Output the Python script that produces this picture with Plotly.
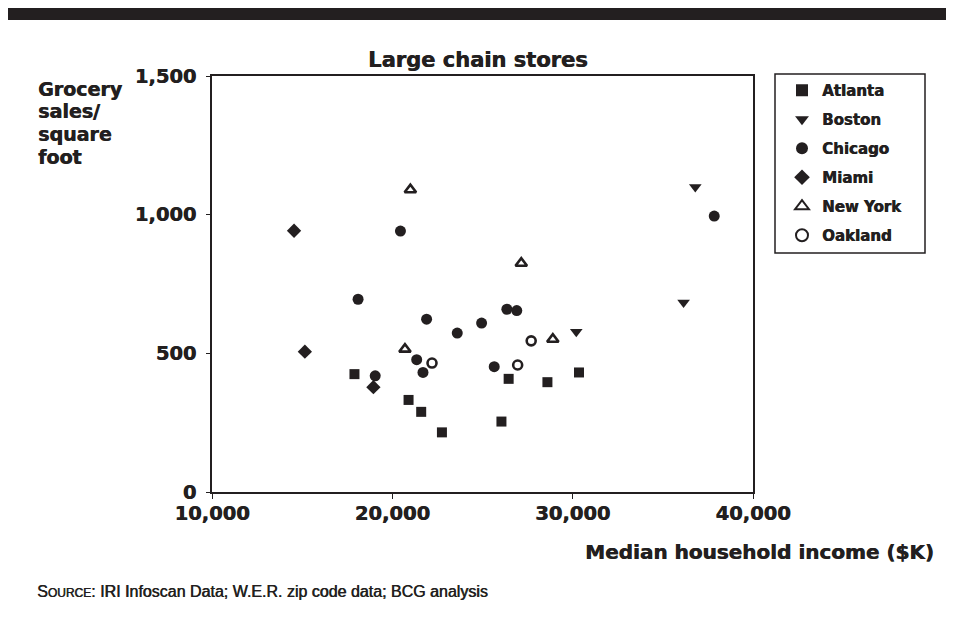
import plotly.graph_objects as go

# ---- data ----
cities = ["Atlanta", "Boston", "Chicago", "Miami", "New York", "Oakland"]

atlanta_income = [17900, 20900, 21600, 22750, 26050, 26450, 28600, 30350]
atlanta_sales = [425, 332, 289, 215, 254, 408, 396, 431]

boston_income = [30200, 36150, 36800]
boston_sales = [578, 683, 1100]

chicago_income = [18100, 19050, 20450, 21350, 21700, 21900, 23600, 24950, 25650, 26350, 26900, 37850]
chicago_sales = [695, 419, 941, 477, 431, 623, 573, 609, 452, 659, 654, 995]

miami_income = [14550, 15150, 18950]
miami_sales = [942, 506, 378]

newyork_income = [20700, 21000, 27150, 28900]
newyork_sales = [515, 1090, 825, 551]

oakland_income = [22200, 26950, 27700]
oakland_sales = [465, 458, 545]

x_ticks = [10000, 20000, 30000, 40000]
x_tick_labels = ["10,000", "20,000", "30,000", "40,000"]
y_ticks = [0, 500, 1000, 1500]
y_tick_labels = ["0", "500", "1,000", "1,500"]

y_title_lines = ["Grocery", "sales/", "square", "foot"]

# ---- style ----
INK = "#231f20"
HEAVY = "DejaVu Sans"
OFF = 8  # page body margin offset
THICK = "0.6px 0px 0px #231f20"

series = [
    (cities[0], atlanta_income, atlanta_sales, dict(symbol="square", size=10, color=INK)),
    (cities[1], boston_income, boston_sales, dict(symbol="triangle-down", size=11, color=INK)),
    (cities[2], chicago_income, chicago_sales, dict(symbol="circle", size=11, color=INK)),
    (cities[3], miami_income, miami_sales, dict(symbol="diamond", size=11, color=INK)),
    (cities[4], newyork_income, newyork_sales,
     dict(symbol="triangle-up-open", size=10, color=INK, line=dict(width=2.6, color=INK))),
    (cities[5], oakland_income, oakland_sales,
     dict(symbol="circle-open", size=9, color=INK, line=dict(width=2.6, color=INK))),
]

fig = go.Figure()
for name, xs, ys, mk in series:
    fig.add_trace(go.Scatter(x=xs, y=ys, mode="markers", name=name,
                             legendgroup=name, marker=mk))

W, H = 959 - OFF, 620 - OFF
L, R, T, B = 212 - OFF, 753 - OFF, 76 - OFF, 492 - OFF
pw, ph = R - L, B - T

def px_x(p):
    return (p - OFF - L) / pw

def px_y(p):
    return (B - (p - OFF)) / ph

def hfont(size):
    return dict(family=HEAVY, size=size, color=INK, weight=700, shadow=THICK)

annotations = [
    dict(text="Large chain stores", xref="paper", yref="paper",
         x=px_x(478), y=px_y(60), xanchor="center", yanchor="middle",
         showarrow=False, font=hfont(21)),
    dict(text="Median household income ($K)", xref="paper", yref="paper",
         x=px_x(936), y=px_y(552), xanchor="right", yanchor="middle",
         showarrow=False, font=hfont(20)),
    dict(text="S<span style='font-size:12px'>OURCE</span>: IRI Infoscan Data; W.E.R. zip code data; BCG analysis",
         xref="paper", yref="paper", x=px_x(35), y=px_y(591),
         xanchor="left", yanchor="middle", showarrow=False,
         font=dict(family="Liberation Sans", size=16, color=INK, weight=400)),
]
for i, line in enumerate(y_title_lines):
    annotations.append(dict(
        text=line, xref="paper", yref="paper",
        x=px_x(36), y=px_y(89 + 22.5 * i), xanchor="left", yanchor="middle",
        showarrow=False, font=hfont(19)))

fig.update_layout(
    width=W, height=H,
    margin=dict(l=L, r=W - R, t=T, b=H - B, pad=0),
    paper_bgcolor="white", plot_bgcolor="white",
    font=hfont(16),
    showlegend=True,
    legend=dict(
        x=px_x(782), y=px_y(74), xanchor="left", yanchor="top",
        borderwidth=0, bgcolor="rgba(0,0,0,0)",
        font=hfont(15),
        tracegroupgap=6.5, itemsizing="constant",
    ),
    xaxis=dict(
        range=[10000, 40000], tickvals=x_ticks, ticktext=x_tick_labels,
        showgrid=False, zeroline=False, showline=True, linecolor=INK, linewidth=1.5,
        mirror=True, ticks="outside", ticklen=5, tickwidth=1.2, tickcolor=INK,
        tickfont=hfont(19.5),
        ticklabelstandoff=-2,
    ),
    yaxis=dict(
        range=[0, 1500], tickvals=y_ticks, ticktext=y_tick_labels,
        showgrid=False, zeroline=False, showline=True, linecolor=INK, linewidth=1.5,
        mirror=True, ticks="outside", ticklen=4, tickwidth=1.2, tickcolor=INK,
        tickfont=hfont(19.5),
        ticklabelstandoff=6,
    ),
    shapes=[
        dict(type="rect", xref="paper", yref="paper",
             x0=px_x(5), x1=px_x(946), y0=px_y(20), y1=px_y(5),
             fillcolor=INK, line=dict(width=0)),
        dict(type="rect", xref="paper", yref="paper", layer="above",
             x0=px_x(775), x1=px_x(925), y0=px_y(253), y1=px_y(74),
             fillcolor="rgba(0,0,0,0)", line=dict(width=1.5, color=INK)),
    ],
    annotations=annotations,
)

fig.write_html("out.html")
